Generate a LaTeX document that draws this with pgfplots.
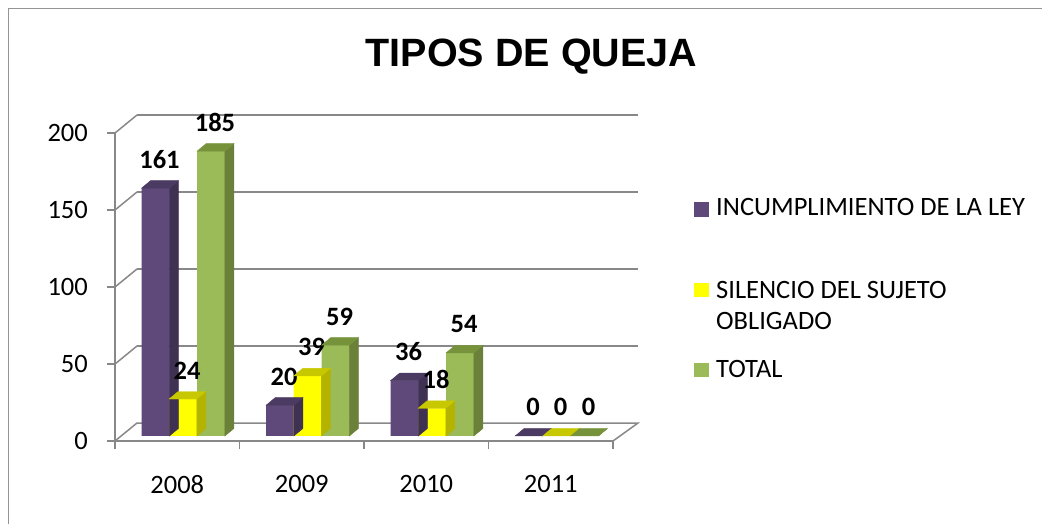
\documentclass[border=0pt]{standalone}
\usepackage{pgfplots}
\pgfplotsset{compat=1.18}
\usepackage{pgfplotstable}
\usepackage{fontspec}
\setmainfont{Carlito}
\newfontfamily\titlefont{Liberation Sans}
\definecolor{purF}{HTML}{5F497A}
\definecolor{purS}{HTML}{3F3151}
\definecolor{purT}{HTML}{4B3A62}
\definecolor{yelF}{HTML}{FFFF00}
\definecolor{yelS}{HTML}{B3B300}
\definecolor{yelT}{HTML}{C8C800}
\definecolor{grnF}{HTML}{9BBB59}
\definecolor{grnS}{HTML}{6B8039}
\definecolor{grnT}{HTML}{76933C}
\definecolor{gridc}{HTML}{888888}
\pgfdeclareplotmark{nomark}{}

\pgfplotstableread{
x v
0.5 161
1.5 20
2.5 36
3.5 0
}\incumpl
\pgfplotstableread{
x v
0.5 24
1.5 39
2.5 18
3.5 0
}\silencio
\pgfplotstableread{
x v
0.5 185
1.5 59
2.5 54
3.5 0
}\total

\newcommand{\fs}{\fontsize{26.5}{31}\selectfont}

\pgfplotsset{
  front/.style 2 args={ybar, fill=#1, draw=none, bar width=27.7pt, bar shift=#2,
    nodes near coords,
    every node near coord/.append style={font=\bfseries\fs, anchor=base, yshift=20pt, xshift={#2+4pt}, inner sep=0pt, text=black}},
  depth3d/.style n args={3}{scatter, only marks, mark=nomark,
    visualization depends on={\thisrow{v} \as \val},
    scatter/@pre marker code/.code={%
      \fill[#2] ({#1+13.85pt},0pt) -- ++(9pt,7.5pt) -- ++(0pt,{-1.54pt*\val}) -- ({#1+13.85pt},{-1.54pt*\val}) -- cycle;
      \fill[#3] ({#1-13.85pt},0pt) -- ({#1+13.85pt},0pt) -- ++(9pt,7.5pt) -- ({#1-13.85pt+9pt},7.5pt) -- cycle;
    },
    scatter/@post marker code/.code={}},
}

\begin{document}
\begin{tikzpicture}
\useasboundingbox (0,0) rectangle (1042pt,523pt);
\clip (0,0) rectangle (1042pt,523pt);
\begin{scope}[x=1pt, y=-1pt, yshift=523pt]
  \draw[gridc!90, line width=1pt] (8,9) rectangle (1100,600);
  % floor
  \draw[gridc, line width=1.5pt, fill=white] (115,441) -- (613,441) -- (638,423) -- (137,423) -- cycle;
  % back wall and side wall gridlines
  \foreach \yb/\yf in {346/364, 269/287, 192/210, 115/133} {
    \draw[gridc, line width=1.5pt] (137,\yb) -- (638,\yb);
    \draw[gridc, line width=1.5pt] (115,\yf) -- (137,\yb);
  }
  % title
  \node[font=\titlefont\bfseries\fontsize{39.5}{45}\selectfont, anchor=base, inner sep=0pt] at (531.5,66.7) {TIPOS DE QUEJA};
  % legend
  \fill[purF] (694,201.7) rectangle (709,216.7);
  \node[anchor=base west, inner sep=0pt, font=\fs] at (716,216) {INCUMPLIMIENTO DE LA LEY};
  \fill[yelF] (694,282.7) rectangle (709,297.3);
  \node[anchor=base west, inner sep=0pt, font=\fs] at (716,298.3) {SILENCIO DEL SUJETO};
  \node[anchor=base west, inner sep=0pt, font=\fs] at (716,329.3) {OBLIGADO};
  \fill[grnF] (694,362.7) rectangle (709,377.3);
  \node[anchor=base west, inner sep=0pt, font=\fs] at (716,377.3) {TOTAL};
\end{scope}
\begin{axis}[
  at={(115pt,82pt)}, anchor=south west,
  x=124.5pt, y=1.54pt,
  xmin=0, xmax=4, ymin=-3.25, ymax=196.75,
  clip=false,
  axis x line*=bottom, axis y line*=left,
  axis line style={gridc, line width=1.5pt, -},
  tick align=outside, major tick length=8pt, minor tick length=8pt,
  every tick/.style={gridc, line width=1.5pt},
  ytick={-3.25,46.75,96.75,146.75,196.75},
  yticklabels={0,50,100,150,200},
  xtick={0.5,1.5,2.5,3.5}, xticklabels={2008,2009,2010,2011},
  minor xtick={0,1,2,3,4},
  major x tick style={draw=none},
  ticklabel style={font=\fs, inner sep=0pt},
  yticklabel style={anchor=east, xshift=-19pt},
  xticklabel style={anchor=north, yshift=-26pt},
  /pgf/number format/assume math mode=true,
]
\addplot[front={purF}{-21.75pt}] table[x=x,y=v]{\incumpl};
\addplot[depth3d={-21.75pt}{purS}{purT}] table[x=x,y=v]{\incumpl};
\addplot[front={yelF}{5.75pt}] table[x=x,y=v]{\silencio};
\addplot[depth3d={5.75pt}{yelS}{yelT}] table[x=x,y=v]{\silencio};
\addplot[front={grnF}{33.75pt}] table[x=x,y=v]{\total};
\addplot[depth3d={33.75pt}{grnS}{grnT}] table[x=x,y=v]{\total};
\end{axis}
\end{tikzpicture}
\end{document}
